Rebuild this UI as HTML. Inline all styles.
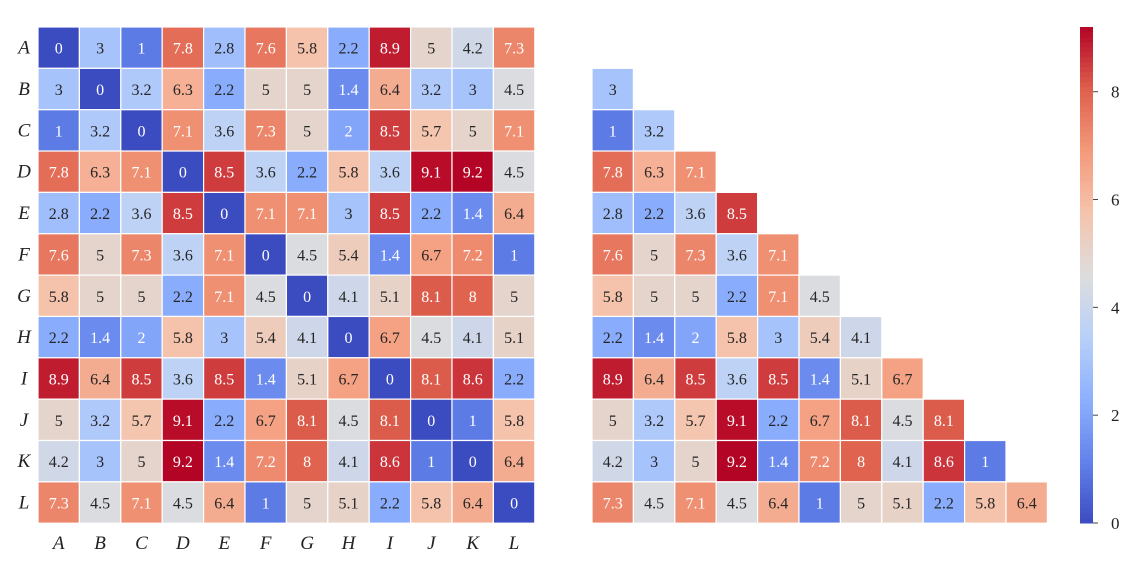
<!DOCTYPE html>
<html><head><meta charset="utf-8"><style>
body{margin:0;background:#fff;}
svg text{font-family:"Liberation Serif",serif;}
</style></head><body>
<svg id="c" width="1145" height="556" xmlns="http://www.w3.org/2000/svg"></svg>
<script>
const labels=["A","B","C","D","E","F","G","H","I","J","K","L"];
const row0=[0,3,1,7.8,2.8,7.6,5.8,2.2,8.9,5,4.2,7.3];
const row1=[3,0,3.2,6.3,2.2,5,5,1.4,6.4,3.2,3,4.5];
const row2=[1,3.2,0,7.1,3.6,7.3,5,2,8.5,5.7,5,7.1];
const row3=[7.8,6.3,7.1,0,8.5,3.6,2.2,5.8,3.6,9.1,9.2,4.5];
const row4=[2.8,2.2,3.6,8.5,0,7.1,7.1,3,8.5,2.2,1.4,6.4];
const row5=[7.6,5,7.3,3.6,7.1,0,4.5,5.4,1.4,6.7,7.2,1];
const row6=[5.8,5,5,2.2,7.1,4.5,0,4.1,5.1,8.1,8,5];
const row7=[2.2,1.4,2,5.8,3,5.4,4.1,0,6.7,4.5,4.1,5.1];
const row8=[8.9,6.4,8.5,3.6,8.5,1.4,5.1,6.7,0,8.1,8.6,2.2];
const row9=[5,3.2,5.7,9.1,2.2,6.7,8.1,4.5,8.1,0,1,5.8];
const row10=[4.2,3,5,9.2,1.4,7.2,8,4.1,8.6,1,0,6.4];
const row11=[7.3,4.5,7.1,4.5,6.4,1,5,5.1,2.2,5.8,6.4,0];
const matrix=[row0,row1,row2,row3,row4,row5,row6,row7,row8,row9,row10,row11];
const cbTicks=[0,2,4,6,8];
const vmin=0,vmax=9.2;

const NS="http://www.w3.org/2000/svg";
const svg=document.getElementById("c");
function mk(t,a,p){const e=document.createElementNS(NS,t);for(const k in a)e.setAttribute(k,a[k]);(p||svg).appendChild(e);return e;}
const stops=[[59,76,192],[98,130,234],[141,176,254],[184,208,249],[221,221,221],[245,196,173],[244,154,123],[222,96,77],[180,4,38]];
function cmap(v){let t=Math.max(0,Math.min(1,(v-vmin)/(vmax-vmin)))*8;let i=Math.min(7,Math.floor(t)),f=t-i;const a=stops[i],b=stops[i+1];return [0,1,2].map(k=>Math.round(a[k]+(b[k]-a[k])*f));}
function lum(c){const l=c.map(x=>{x/=255;return x<=0.03928?x/12.92:Math.pow((x+0.055)/1.055,2.4)});return 0.2126*l[0]+0.7152*l[1]+0.0722*l[2];}
const cw=41.4,ch=41.35;
function xs(x0,j){return x0+j*cw;}
function ys(i){return 27+i*ch;}
function cell(g,x,y,v){
  const c=cmap(v);
  const r=mk("rect",{x:x,y:y,width:cw,height:ch,fill:`rgb(${c})`,stroke:"#fff","stroke-width":1.2},g);
  
  
  const t=mk("text",{x:x+cw/2,y:y+ch/2+6,"text-anchor":"middle","font-size":16,fill:lum(c)>0.408?"#262626":"#fff"},g);
  
  
  t.textContent=String(v);
}
// left
const gl=mk("g",{});
matrix.forEach((row,i)=>row.forEach((v,j)=>cell(gl,xs(38,j),ys(i),v)));
labels.forEach((l,i)=>{
  const t=mk("text",{x:24,y:ys(i)+ch/2+6,"text-anchor":"middle","font-size":19,"font-style":"italic",fill:"#222"},gl);
  t.textContent=l;
  const u=mk("text",{x:xs(38,i)+cw/2,y:549,"text-anchor":"middle","font-size":19,"font-style":"italic",fill:"#222"},gl);
  u.textContent=l;
});
// right triangle
const gr=mk("g",{});
matrix.forEach((row,i)=>row.forEach((v,j)=>{if(j<i)cell(gr,xs(592,j),ys(i),v);}));
// colorbar
const gc=mk("g",{});
const cbx=1080,cbw=13,cbTop=27,cbBot=523;
function cy(v){return cbBot-(v-vmin)/(vmax-vmin)*(cbBot-cbTop);}
const n=100;
for(let k=0;k<n;k++){const v0=vmin+(vmax-vmin)*k/n,v1=vmin+(vmax-vmin)*(k+1)/n;const c=cmap((v0+v1)/2);
  const r=mk("rect",{x:cbx,y:cy(v1),width:cbw,height:cy(v0)-cy(v1)+0.5,fill:`rgb(${c})`},gc);
  }
cbTicks.forEach(v=>{
  const l=mk("line",{x1:cbx+cbw,x2:cbx+cbw+5,y1:cy(v),y2:cy(v),stroke:"#444","stroke-width":1},gc);
  
  const t=mk("text",{x:cbx+cbw+18,y:cy(v)+6,"text-anchor":"start","font-size":17,fill:"#222"},gc);
  t.textContent=v;
});
</script>
</body></html>
